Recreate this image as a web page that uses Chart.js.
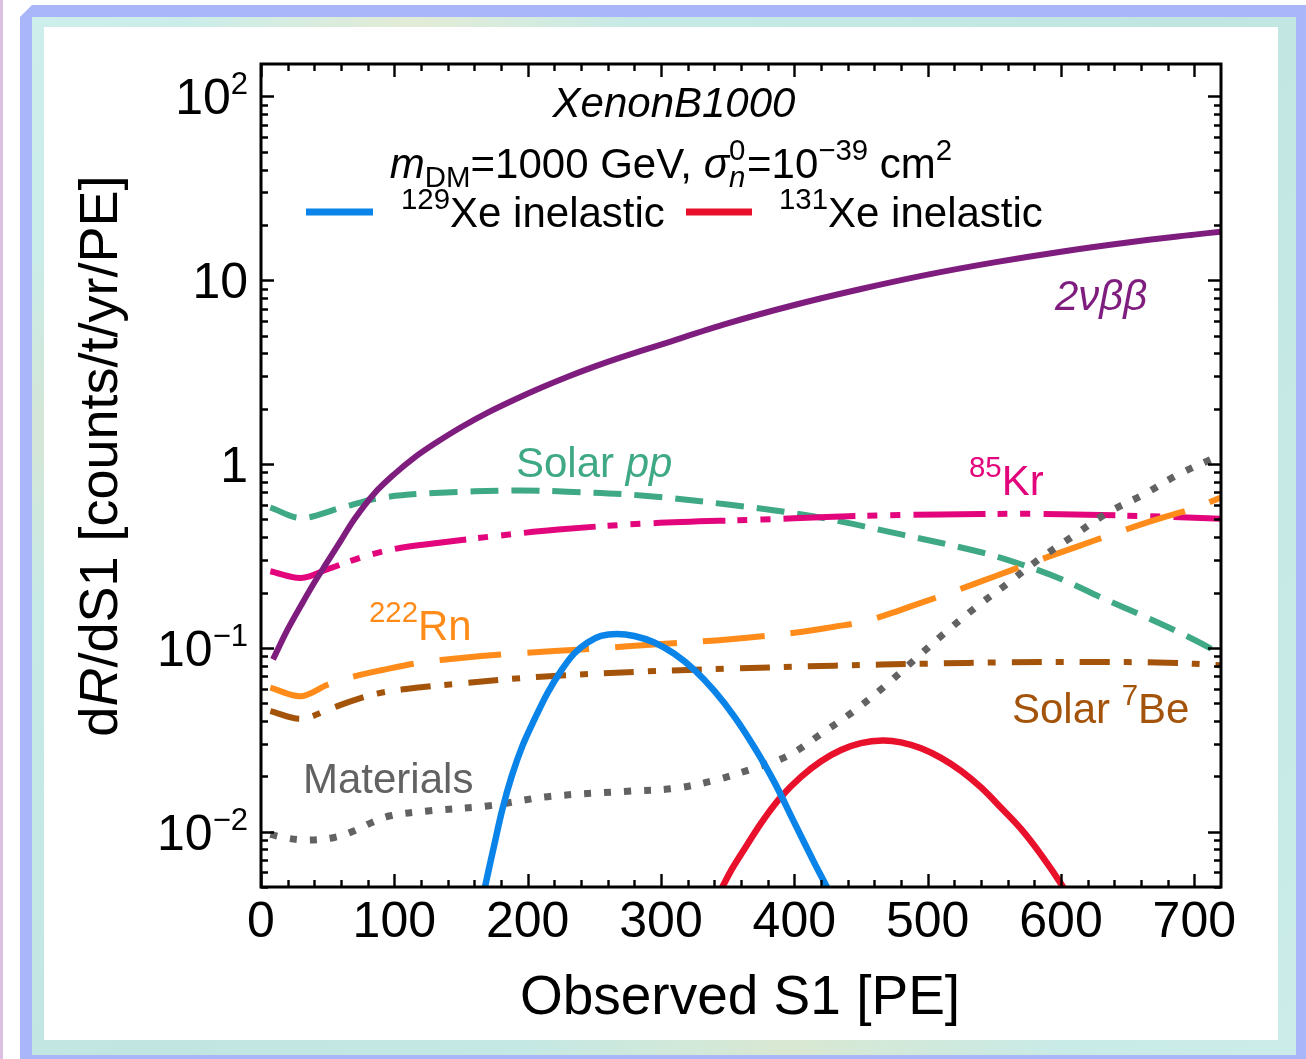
<!DOCTYPE html>
<html><head><meta charset="utf-8">
<script src="https://cdn.jsdelivr.net/npm/chart.js@4.4.1/dist/chart.umd.min.js"></script>
<style>
html,body{margin:0;padding:0;width:1306px;height:1059px;overflow:hidden;background:#fff;}
#pink{position:absolute;left:0;top:0;width:3px;height:1059px;background:#dcc0e2;}
#frame{position:absolute;left:20px;top:5px;width:1290px;height:1060px;background:#a9b6f9;clip-path:polygon(12px 0,100% 0,100% 100%,0 100%,0 12px);}
#inner{position:absolute;left:32px;top:17px;width:1264px;height:1038px;
 background:radial-gradient(ellipse at 30% 2%, #e3ecd6 0, rgba(227,236,214,0) 18%),
 radial-gradient(ellipse at 2% 40%, #d5e6d6 0, rgba(213,230,214,0) 20%),
 radial-gradient(ellipse at 60% 99%, #d9e8d2 0, rgba(217,232,210,0) 25%),
 linear-gradient(135deg,#cdeeea,#c1e6e2 50%,#cbece8);}
#panel{position:absolute;left:44px;top:27px;width:1234px;height:1013px;background:#fff;}
canvas{position:absolute;left:0;top:0;}
</style></head><body>
<div id="pink"></div><div id="frame"></div><div id="inner"></div><div id="panel"></div>
<canvas id="c" width="1306" height="1059"></canvas>
<script>
// ---- data ----
const xTicks = [0,100,200,300,400,500,600,700];
const yTicks = [100,10,1,0.1,0.01];
const yTickLabels = [['10','2'],['10',''],['1',''],['10','\u22121'],['10','\u22122']];

const x2nbb = [9,20,30,40,50,60,70,85,100,115,130,150,170,190,210,230,250,270,300,350,400,450,500,550,600,650,700,720];
const y2nbb = [0.0865,0.1259,0.1698,0.2265,0.2951,0.3846,0.5012,0.6918,0.881,1.084,1.288,1.585,1.905,2.239,2.600,2.985,3.388,3.802,4.467,5.821,7.328,8.954,10.72,12.50,14.29,16.03,17.70,18.37];

const xSolarPP = [7,30,60,90,130,190,230,285,350,414,480,540,570,600,630,660,690,720];
const ySolarPP = [0.58,0.509,0.578,0.655,0.695,0.718,0.707,0.675,0.602,0.52,0.414,0.331,0.285,0.237,0.188,0.151,0.120,0.093];

const xKr = [7,30,50,78,100,123,175,223,290,376,424,480,540,580,620,680,720];
const yKr = [0.261,0.240,0.268,0.315,0.345,0.365,0.405,0.44,0.475,0.499,0.515,0.528,0.534,0.536,0.530,0.516,0.503];

const xBe7 = [7,30,50,70,90,120,150,210,290,350,430,500,560,620,680,720];
const yBe7 = [0.0453,0.0411,0.046,0.052,0.057,0.061,0.064,0.0697,0.0745,0.077,0.080,0.082,0.0834,0.0838,0.083,0.0805];

const xRn = [7,30,50,70,90,120,150,190,250,300,350,400,430,450,470,490,520,550,580,610,640,670,700,720];
const yRn = [0.0607,0.0546,0.063,0.070,0.0755,0.0832,0.088,0.093,0.099,0.105,0.111,0.1208,0.1303,0.138,0.152,0.1706,0.2032,0.2443,0.2938,0.3508,0.4188,0.4955,0.5754,0.6577];

const xMat = [7,20,35,55,70,83,97,125,170,215,275,310,340,367,395,420,445,468,490,512,536,560,584,609,635,662,688,720];
const yMat = [0.00966,0.0092,0.0090,0.0093,0.0101,0.0112,0.0122,0.01295,0.0138,0.0155,0.0166,0.0172,0.019,0.0218,0.0258,0.034,0.0455,0.062,0.086,0.119,0.166,0.224,0.305,0.405,0.543,0.683,0.877,1.12];

const xXe129 = [163,168,175,181,188,196,205,215,225,235,245,255,267,280,295,310,325,340,355,370,385,400,415,425,432];
const yXe129 = [0.0033,0.0050,0.0085,0.0132,0.020,0.0292,0.0407,0.057,0.075,0.0933,0.107,0.116,0.119,0.116,0.107,0.0929,0.0759,0.0583,0.0423,0.0288,0.0186,0.0112,0.00676,0.0049,0.0038];

const xXe131 = [343,352,362,376,390,405,420,435,450,466,480,495,510,525,540,555,570,585,600,610];
const yXe131 = [0.00452,0.00605,0.00793,0.01138,0.01545,0.01986,0.02415,0.0278,0.0303,0.0313,0.0306,0.0284,0.0252,0.0214,0.0174,0.0135,0.01035,0.0075,0.0052,0.0039];

// ---- styling ----
const C = {purple:'#7f1d7f', teal:'#3fa885', magenta:'#e2057b', orange:'#ff8c1a', brown:'#a4530b', gray:'#626262', blue:'#0a84e8', red:'#e8102a'};
const FF = '"Liberation Sans", Arial, Helvetica, sans-serif';
function zip(xs, ys){ return xs.map((x,i)=>({x:x, y:ys[i]})); }
function ds(xs, ys, color, width, dash, order){
  return {data:zip(xs,ys), borderColor:color, borderWidth:width, borderDash:dash, borderCapStyle:'butt',
    borderJoinStyle:'round', pointRadius:0, fill:false, tension:0.35, order:order};
}

function fnt(sz, it){ return (it?'italic ':'') + sz + 'px ' + FF; }
// parts: [text, style] style: '' normal, 'i' italic, '^' sup, '_' sub, 'S' stacked "sup|sub"(sub italic)
function drawRich(ctx, parts, x, y, size, color, align, opt){
  opt = opt || {};
  const ss = opt.ss || 0.7, rise = opt.rise || 0.42, drop = opt.drop || 0.22;
  const items = [];
  let total = 0;
  for (const [t, st] of parts){
    if (st.includes('S')){
      const [a,b] = t.split('|');
      ctx.font = fnt(size*ss, false); const wa = ctx.measureText(a).width;
      ctx.font = fnt(size*ss, true); const wb = ctx.measureText(b).width;
      const w = Math.max(wa,wb)+size*0.04;
      items.push({stack:true, a, b, w});
      total += w;
      continue;
    }
    const it = st.includes('i');
    let sz = size, dy = 0;
    if (st.includes('^')){ sz = size*ss; dy = -size*rise; }
    if (st.includes('_')){ sz = size*ss; dy = size*drop; }
    ctx.font = fnt(sz, it);
    const w = ctx.measureText(t).width;
    items.push({t, it, sz, dy, w});
    total += w;
  }
  let cx = x - (align==='center' ? total/2 : align==='right' ? total : 0);
  ctx.fillStyle = color; ctx.textAlign = 'left'; ctx.textBaseline = 'alphabetic';
  for (const o of items){
    if (o.stack){
      ctx.font = fnt(size*ss, false); ctx.fillText(o.a, cx, y - size*rise);
      ctx.font = fnt(size*ss, true); ctx.fillText(o.b, cx, y + size*drop);
    } else {
      ctx.font = fnt(o.sz, o.it); ctx.fillText(o.t, cx, y + o.dy);
    }
    cx += o.w;
  }
}

const axesPlugin = {
  id:'axesPlugin',
  afterDraw(chart){
    const ctx = chart.ctx, a = chart.chartArea, xs = chart.scales.x, ys = chart.scales.y;
    ctx.save();
    ctx.strokeStyle = '#000'; ctx.lineCap = 'butt';
    // ticks
    ctx.lineWidth = 2.4;
    ctx.beginPath();
    for (let v = 0; v < 720; v += 20){
      const px = Math.round(xs.getPixelForValue(v)) + 0.5;
      const len = (v % 100 === 0) ? 13 : 7;
      ctx.moveTo(px, a.bottom); ctx.lineTo(px, a.bottom - len);
      ctx.moveTo(px, a.top); ctx.lineTo(px, a.top + len);
    }
    for (let d = -3; d <= 2; d++){
      for (let k = 1; k <= 9; k++){
        const v = k * Math.pow(10, d);
        if (v < 0.005 || v > 150) continue;
        const py = Math.round(ys.getPixelForValue(v)) + 0.5;
        const len = (k === 1) ? 13 : 7;
        ctx.moveTo(a.left, py); ctx.lineTo(a.left + len, py);
        ctx.moveTo(a.right, py); ctx.lineTo(a.right - len, py);
      }
    }
    ctx.stroke();
    // frame
    ctx.lineWidth = 3;
    ctx.strokeRect(a.left, a.top, a.right - a.left, a.bottom - a.top);

    // x tick labels
    ctx.fillStyle = '#000'; ctx.font = fnt(50,false); ctx.textAlign = 'center'; ctx.textBaseline = 'alphabetic';
    for (const v of xTicks){ ctx.fillText(String(v), xs.getPixelForValue(v), 937); }
    // y tick labels
    yTicks.forEach((v,i)=>{
      const py = ys.getPixelForValue(v);
      const [m, s] = yTickLabels[i];
      const parts = [[m,'']]; if (s) parts.push([s,'^']);
      drawRich(ctx, parts, 248, py + 18, 50, '#000', 'right', {ss:0.62, rise:0.4});
    });
    // axis titles
    ctx.fillStyle = '#000'; ctx.font = fnt(55,false); ctx.textAlign = 'center';
    ctx.fillText('Observed S1 [PE]', 740, 1014);
    ctx.save();
    ctx.translate(117, 456); ctx.rotate(-Math.PI/2);
    drawRich(ctx, [['d',''],['R','i'],['/dS1 [counts/t/yr/PE]','']], 0, 0, 54, '#000', 'center');
    ctx.restore();

    // annotations
    drawRich(ctx, [['XenonB1000','i']], 674, 117, 42, '#000', 'center');
    drawRich(ctx, [['m','i'],['DM','_'],['=1000 GeV, ',''],['\u03c3','i'],['0|n','S'],['=10',''],['\u221239','^'],[' cm',''],['2','^']], 671, 178, 42, '#000', 'center');
    // legend
    ctx.lineWidth = 7;
    ctx.strokeStyle = C.blue; ctx.beginPath(); ctx.moveTo(306, 212); ctx.lineTo(373, 212); ctx.stroke();
    ctx.strokeStyle = C.red; ctx.beginPath(); ctx.moveTo(686, 212); ctx.lineTo(752, 212); ctx.stroke();
    drawRich(ctx, [['129','^'],['Xe inelastic','']], 401, 227, 42, '#000', 'left');
    drawRich(ctx, [['131','^'],['Xe inelastic','']], 779, 227, 42, '#000', 'left');
    // curve labels
    drawRich(ctx, [['2\u03bd\u03b2\u03b2','i']], 1055, 310, 42, C.purple, 'left');
    drawRich(ctx, [['Solar ',''],['pp','i']], 516, 477, 42, C.teal, 'left');
    drawRich(ctx, [['85','^'],['Kr','']], 969, 495, 42, C.magenta, 'left');
    drawRich(ctx, [['222','^'],['Rn','']], 369, 640, 42, C.orange, 'left');
    drawRich(ctx, [['Solar ',''],['7','^'],['Be','']], 1012, 723, 42, C.brown, 'left');
    drawRich(ctx, [['Materials','']], 303, 793, 42, C.gray, 'left');
    ctx.restore();
  }
};

new Chart(document.getElementById('c'), {
  type:'line',
  data:{datasets:[
    ds(xXe129, yXe129, C.blue, 6.5, [], 1),
    ds(xXe131, yXe131, C.red, 6.5, [], 2),
    ds(xMat, yMat, C.gray, 7, [7,13], 3),
    ds(x2nbb, y2nbb, C.purple, 6, [], 4),
    ds(xRn, yRn, C.orange, 6, [62,26], 5),
    ds(xBe7, yBe7, C.brown, 6, [30,14,8,16], 6),
    ds(xKr, yKr, C.magenta, 6, [72,12,10,13,10,13], 7),
    ds(xSolarPP, ySolarPP, C.teal, 6, [28,13], 8)
  ]},
  options:{
    responsive:false, maintainAspectRatio:false, animation:false, devicePixelRatio:1,
    events:[],
    layout:{padding:{left:261, top:64, right:85, bottom:172}},
    plugins:{legend:{display:false}, tooltip:{enabled:false}, title:{display:false}},
    scales:{
      x:{type:'linear', min:0, max:720, display:false},
      y:{type:'logarithmic', min:0.005, max:150, display:false}
    }
  },
  plugins:[axesPlugin]
});
</script>
</body></html>
